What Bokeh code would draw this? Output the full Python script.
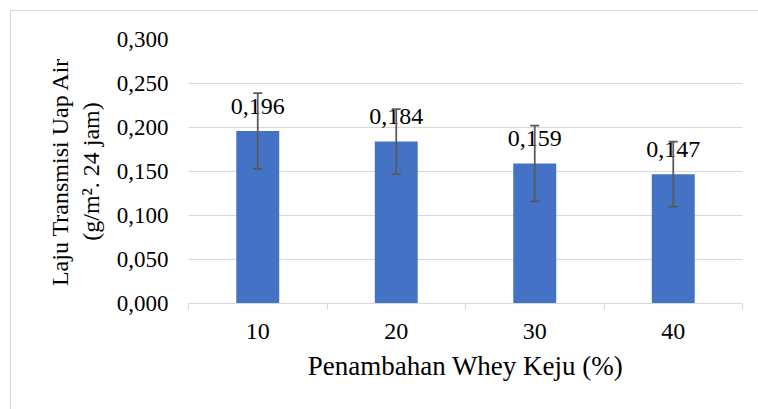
from bokeh.plotting import figure
from bokeh.models import ColumnDataSource, FixedTicker, Whisker, TeeHead, Range1d
from bokeh.core.properties import value
from bokeh.embed import file_html
from bokeh.resources import INLINE

# Data
categories = ["10", "20", "30", "40"]
values = [0.196, 0.184, 0.159, 0.147]
errors = [0.043, 0.037, 0.043, 0.037]
y_ticks = [0.0, 0.05, 0.10, 0.15, 0.20, 0.25, 0.30]
y_tick_labels = ["0,000", "0,050", "0,100", "0,150", "0,200", "0,250", "0,300"]
x_title = "Penambahan Whey Keju (%)"
y_title = "Laju Transmisi Uap Air\n(g/m². 24 jam)"

FONT = "Liberation Serif"
positions = list(range(1, len(categories) + 1))
labels = [f"{v:.3f}".replace(".", ",") for v in values]

src = ColumnDataSource(dict(
    x=positions,
    top=values,
    upper=[v + e for v, e in zip(values, errors)],
    lower=[v - e for v, e in zip(values, errors)],
    label=labels,
))

p = figure(width=758, height=409, output_backend="svg", toolbar_location=None,
           x_range=Range1d(0.5, len(categories) + 0.5), y_range=Range1d(0, 0.3),
           min_border_left=188, min_border_right=16, min_border_top=39, min_border_bottom=106)
p.outline_line_color = None
p.background_fill_color = "white"
p.border_fill_color = None
# light grey chart-area border (left and top edges) drawn behind the transparent canvas
p.styles = {"background": "linear-gradient(#d9d9d9, #d9d9d9) 10px 10px / 1px 100% no-repeat, "
                          "linear-gradient(#d9d9d9, #d9d9d9) 10px 10px / 100% 1px no-repeat, #ffffff"}

p.vbar(x="x", top="top", width=0.31, source=src, fill_color="#4472C4", line_color=None)

w = Whisker(source=src, base="x", upper="upper", lower="lower", dimension="height",
            line_color="#595959", line_width=1.75, level="annotation")
w.upper_head = TeeHead(size=9, line_color="#595959", line_width=1.75)
w.lower_head = TeeHead(size=9, line_color="#595959", line_width=1.75)
p.add_layout(w)

p.text(x="x", y="top", text="label", source=src, text_align="center",
       text_baseline="alphabetic", y_offset=-25, text_font=value(FONT),
       text_font_size="24px", text_color="#000000")

# X axis
xa = p.xaxis[0]
xa.ticker = FixedTicker(ticks=positions, minor_ticks=[x - 0.5 for x in positions] + [positions[-1] + 0.5])
xa.major_label_overrides = {pos: c for pos, c in zip(positions, categories)}
xa.major_tick_line_color = None
xa.major_tick_out = 0
xa.major_tick_in = 0
xa.minor_tick_line_color = "#d9d9d9"
xa.minor_tick_out = 6
xa.minor_tick_in = 0
xa.axis_line_color = "#d9d9d9"
xa.axis_line_width = 1
xa.major_label_text_font = FONT
xa.major_label_text_font_size = "24px"
xa.major_label_text_color = "#000000"
xa.major_label_standoff = 14
xa.axis_label = x_title
xa.axis_label_text_font = FONT
xa.axis_label_text_font_size = "27px"
xa.axis_label_text_font_style = "normal"
xa.axis_label_text_color = "#000000"
xa.axis_label_standoff = 9

# Y axis
ya = p.yaxis[0]
ya.ticker = FixedTicker(ticks=y_ticks)
ya.major_label_overrides = {t: l for t, l in zip(y_ticks, y_tick_labels)}
ya.axis_line_color = None
ya.major_tick_line_color = None
ya.minor_tick_line_color = None
ya.major_tick_out = 0
ya.major_label_text_font = FONT
ya.major_label_text_font_size = "23px"
ya.major_label_text_color = "#000000"
ya.major_label_standoff = 20
ya.axis_label = y_title
ya.axis_label_text_font = FONT
ya.axis_label_text_font_size = "24px"
ya.axis_label_text_font_style = "normal"
ya.axis_label_text_color = "#000000"
ya.axis_label_standoff = 10

p.xgrid.grid_line_color = None
p.ygrid.grid_line_color = "#d9d9d9"
p.ygrid.grid_line_width = 1

open("out.html", "w").write(file_html(p, INLINE))
